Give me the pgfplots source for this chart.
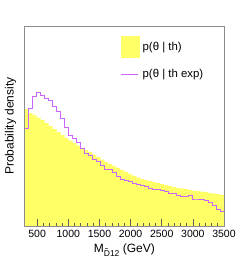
\documentclass[border=0pt]{standalone}
\usepackage{fontspec}
\setmainfont{Liberation Sans}
\usepackage{pgfplots}
\pgfplotsset{compat=1.18}
\definecolor{yfill}{RGB}{255,255,102}
\definecolor{pline}{RGB}{204,102,255}
\definecolor{frame}{RGB}{140,140,140}
\begin{document}
\begin{tikzpicture}
\useasboundingbox (-24.7pt,-40pt) rectangle (224.3pt,226pt);
\begin{axis}[
  at={(0pt,0pt)}, anchor=south west,
  scale only axis, width=199.3pt, height=200pt,
  xmin=300, xmax=3500, ymin=0, ymax=200,
  axis on top,
  axis line style={frame, line width=0.8pt},
  xtick={500,1000,1500,2000,2500,3000,3500},
  minor x tick num=4,
  xtick pos=lower, ytick=\empty,
  tick align=inside,
  major tick length=7pt, minor tick length=3.3pt,
  tick style={frame!70!black, line width=0.6pt},
  /pgf/number format/assume math mode=true,
  /pgf/number format/set thousands separator={},
  xticklabel style={font=\fontsize{10.5}{12}\selectfont, yshift=-1pt},
  xlabel={M\raisebox{-0.55ex}{\fontsize{8.5}{10}\selectfont D^^^^030312} (GeV)},
  xlabel style={font=\fontsize{12}{14}\selectfont, yshift=1pt},
  ylabel={Probability density},
  ylabel style={font=\fontsize{12}{14}\selectfont, yshift=5pt},
  legend style={at={(rel axis cs:0.4817,0.95)}, anchor=north west,
    draw=none, fill=none, inner sep=0pt, outer sep=0pt,
    row sep=12pt, column sep=3.7pt,
    nodes={inner sep=0pt, font=\fontsize{11.4}{13}\selectfont}},
  legend cell align=left,
]
\addplot[const plot, fill=yfill, draw=none, forget plot] coordinates {
(300,117) (364,113) (428,111) (492,108.5) (556,106) (620,103) (684,100) (748,97)
(812,94) (876,91) (940,88) (1004,85.5) (1068,83) (1132,80.5) (1196,78) (1260,76)
(1324,74) (1388,71.5) (1452,69) (1516,66.5) (1580,64) (1644,62) (1708,60) (1772,58)
(1836,56) (1900,54) (1964,52) (2028,50) (2092,48.5) (2156,47) (2220,46) (2284,45)
(2348,44) (2412,43) (2476,42) (2540,41) (2604,40) (2668,39) (2732,38) (2796,37.5)
(2860,37) (2924,36) (2988,35.5) (3052,35) (3116,34.5) (3180,34) (3244,33) (3308,32.5)
(3372,32) (3436,31) (3500,31)
} \closedcycle;
\addplot[const plot, color=pline, line width=0.9pt, forget plot] coordinates {
(300,98) (364,118) (428,130) (492,134) (556,131) (620,128) (684,126) (748,120)
(812,115) (876,108) (940,99) (1004,91) (1068,88) (1132,83.5) (1196,78) (1260,73)
(1324,71) (1388,67) (1452,64.5) (1516,61) (1580,56.5) (1644,57) (1708,53.5) (1772,50)
(1836,47) (1900,46) (1964,44.5) (2028,43) (2092,42) (2156,41) (2220,39.5) (2284,38)
(2348,37) (2412,36.5) (2476,36) (2540,35) (2604,33) (2668,32.5) (2732,31) (2796,30)
(2860,29.5) (2924,30.5) (2988,27) (3052,27) (3116,26.5) (3180,25.5) (3244,23.5) (3308,21)
(3372,17) (3436,14.5) (3500,14.5)
};
\addlegendimage{legend image code/.code={\fill[yfill] (0pt,-10.5pt) rectangle (17.6pt,10.5pt);}}
\addlegendentry{p(θ | th)}
\addlegendimage{legend image code/.code={\draw[pline, line width=0.9pt] (0pt,0pt) -- (17pt,0pt);}}
\addlegendentry{p(θ | th exp)}
\end{axis}
\end{tikzpicture}
\end{document}
